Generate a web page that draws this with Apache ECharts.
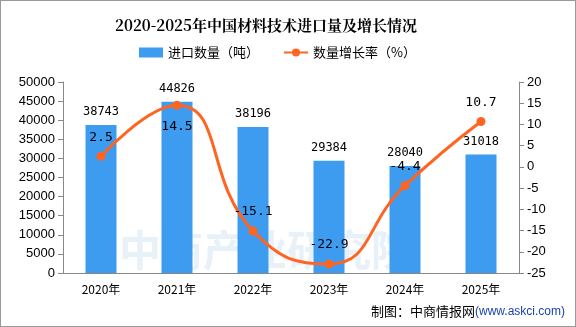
<!DOCTYPE html>
<html><head><meta charset="utf-8">
<script src="https://cdn.jsdelivr.net/npm/echarts@6/dist/echarts.min.js"></script>
<style>html,body{margin:0;padding:0;background:#fff}#c{width:576px;height:327px;box-sizing:border-box;border:1px solid #999}</style>
</head><body><div id="c"></div>
<script>
const categories = ['2020年','2021年','2022年','2023年','2024年','2025年'];
const importVolume = [38743, 44826, 38196, 29384, 28040, 31018];
const growthRate = [2.5, 14.5, -15.1, -22.9, -4.4, 10.7];
const labelBelow = [false, true, false, false, false, false];

const chart = echarts.init(document.getElementById('c'));
const axisFont = {color:'#000', fontSize:13, fontFamily:'Liberation Sans, Arial, sans-serif', formatter:v=>String(v)};
chart.setOption({
  animation:false,
  title:{text:'2020-2025年中国材料技术进口量及增长情况', left:260, top:12, textAlign:'center',
    textStyle:{fontSize:15, fontWeight:'bold', color:'#000', fontFamily:'Noto Serif CJK SC, Noto Sans CJK SC, serif'}},
  legend:{left:133, top:40, itemGap:24, itemWidth:24, itemHeight:10,
    textStyle:{fontSize:13, color:'#000', fontFamily:'Noto Sans CJK SC, sans-serif'},
    data:[{name:'进口数量（吨）', icon:'rect'},{name:'数量增长率（%）'}]},
  graphic:[
    {type:'text', left:118, top:228, z:-1, style:{text:'中商产业研究院', fontSize:42, fontWeight:'bold', fill:'rgba(190,215,232,0.35)', fontFamily:'Noto Sans CJK SC, sans-serif'}},
    {type:'text', right:10, top:304, style:{rich:{a:{fontSize:13, fill:'#000', fontFamily:'Noto Sans CJK SC, sans-serif'}, b:{fontSize:12, fill:'#1a3fb0', fontFamily:'Liberation Sans, Arial, sans-serif'}}, text:'{a|制图：中商情报网}{b|(www.askci.com)}'}}
  ],
  grid:{left:62, right:56, top:81, bottom:53},
  xAxis:{type:'category', data:categories,
    axisLine:{lineStyle:{color:'#888'}}, axisTick:{lineStyle:{color:'#888'}},
    axisLabel:{color:'#000', fontSize:12, margin:10, fontFamily:'Noto Sans CJK SC, sans-serif'}},
  yAxis:[
    {type:'value', min:0, max:50000, interval:5000,
      axisLine:{show:true, lineStyle:{color:'#888'}}, axisTick:{show:true, lineStyle:{color:'#888'}},
      splitLine:{show:false}, axisLabel:axisFont},
    {type:'value', min:-25, max:20, interval:5,
      axisLine:{show:true, lineStyle:{color:'#888'}}, axisTick:{show:true, lineStyle:{color:'#888'}},
      splitLine:{show:false}, axisLabel:axisFont}
  ],
  series:[
    {name:'进口数量（吨）', type:'bar', data:importVolume, barWidth:31,
      itemStyle:{color:'#3d9cf0'},
      label:{show:true, position:'top', distance:7, color:'#000', fontSize:12, fontFamily:'DejaVu Sans Mono, monospace'}},
    {name:'数量增长率（%）', type:'line', yAxisIndex:1, smooth:true,
      data:growthRate.map((v,i)=> labelBelow[i] ? {value:v, label:{position:'bottom', distance:10}} : v),
      symbol:'circle', symbolSize:9,
      lineStyle:{color:'#ff6420', width:3}, itemStyle:{color:'#ff6420'},
      label:{show:true, position:'top', distance:8, color:'#000', fontSize:13, fontFamily:'DejaVu Sans Mono, monospace'}}
  ]
});
</script></body></html>
